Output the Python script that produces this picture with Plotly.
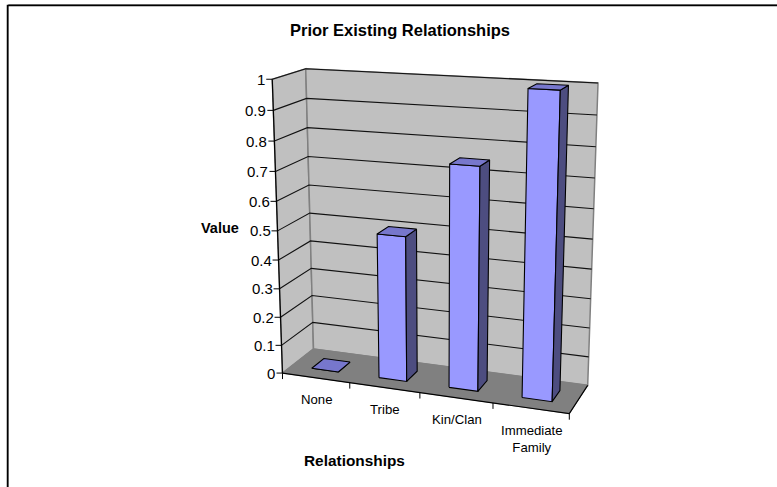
import numpy as np
import plotly.graph_objects as go

categories = ["None", "Tribe", "Kin/Clan", "Immediate<br>Family"]
values = [0, 0.5, 0.75, 1.0]
axis_ticks = [0, 0.1, 0.2, 0.3, 0.4, 0.5, 0.6, 0.7, 0.8, 0.9, 1]
tick_labels = ["0", "0.1", "0.2", "0.3", "0.4", "0.5", "0.6", "0.7", "0.8", "0.9", "1"]
title = "Prior Existing Relationships"
x_title = "Relationships"
y_title = "Value"

# Calibration of the 3-D box (category u, value v, depth w) onto the page
box_corners = [((0, 0, 0), (283, 373)), ((4, 0, 0), (569, 414)), ((4, 0, 1), (588, 385)),
               ((0, 0, 1), (313, 349)), ((0, 1, 0), (272, 79)), ((0, 1, 1), (306, 69)),
               ((4, 1, 1), (598, 83))]
A = []
b = []
for (u, v, w), (px, py) in box_corners:
    A.append([u, v, w, 1, 0, 0, 0, 0, -px * u, -px * v, -px * w])
    b.append(px)
    A.append([0, 0, 0, 0, u, v, w, 1, -py * u, -py * v, -py * w])
    b.append(py)
sol = np.linalg.lstsq(np.array(A, float), np.array(b, float), rcond=None)[0]
P = np.append(sol, 1.0).reshape(3, 4)


def proj(u, v, w):
    q = P @ np.array([u, v, w, 1.0])
    return q[0] / q[2], q[1] / q[2]


fig = go.Figure()


def poly(points, fill=None, line="black", width=1.0, close=True):
    pts = [proj(*p) for p in points]
    if close:
        pts.append(pts[0])
    fig.add_trace(go.Scatter(
        x=[p[0] for p in pts], y=[p[1] for p in pts], mode="lines",
        fill="toself" if fill else "none", fillcolor=fill,
        line=dict(color=line, width=width), hoverinfo="skip", showlegend=False))


N = len(categories)
WALL = "#C0C0C0"
FLOOR = "#808080"
EDGE = "#808080"

# walls and floor
poly([(0, 0, 0), (0, 0, 1), (0, 1, 1), (0, 1, 0)], WALL, EDGE, 1.5)
poly([(0, 0, 1), (N, 0, 1), (N, 1, 1), (0, 1, 1)], WALL, EDGE, 1.5)
poly([(0, 0, 0), (N, 0, 0), (N, 0, 1), (0, 0, 1)], FLOOR, EDGE, 1.0)

# gridlines
for t in axis_ticks[1:]:
    poly([(0, t, 0), (0, t, 1), (N, t, 1)], None, "#111111", 1.1, close=False)

# axes
poly([(0, 0, 0), (0, 1, 0)], None, "black", 1.2, close=False)
poly([(0, 0, 0), (N, 0, 0), (N, 0, 1)], None, "black", 1.2, close=False)
annotations = []
for t, lab in zip(axis_ticks, tick_labels):
    x0, y0 = proj(0, t, 0)
    fig.add_trace(go.Scatter(x=[x0 - 6, x0], y=[y0, y0], mode="lines", line=dict(color="black", width=1),
                             hoverinfo="skip", showlegend=False))
    annotations.append(dict(x=x0 - 5, y=y0, text=lab, xanchor="right", yanchor="middle", showarrow=False,
                            font=dict(family="Liberation Sans", size=15, color="black")))
for i in range(N + 1):
    x0, y0 = proj(i, 0, 0)
    fig.add_trace(go.Scatter(x=[x0, x0], y=[y0, y0 + 6], mode="lines", line=dict(color="black", width=1),
                             hoverinfo="skip", showlegend=False))

# bars
LO, HI = 0.3, 0.7
for i, val in enumerate(values):
    a, c = i + LO, i + HI
    poly([(a, 0, LO), (c, 0, LO), (c, val, LO), (a, val, LO)], "#9999FF", "black", 1.1)
    poly([(c, 0, LO), (c, 0, HI), (c, val, HI), (c, val, LO)], "#4D4D80", "black", 1.1)
    poly([(a, val, LO), (c, val, LO), (c, val, HI), (a, val, HI)], "#7777CC", "black", 1.1)

# category labels
for i, cat in enumerate(categories):
    x0, y0 = proj(i + 0.5, 0, 0)
    annotations.append(dict(x=x0 + 1, y=y0 + 12.5, text=cat, xanchor="center", yanchor="top", showarrow=False,
                            font=dict(family="Liberation Sans", size=13.2, color="black"), align="center"))

annotations.append(dict(x=399.5, y=30, text="<b>%s</b>" % title, showarrow=False, xanchor="center", yanchor="middle",
                        font=dict(family="Liberation Sans", size=16.5, color="black")))
annotations.append(dict(x=354, y=460, text="<b>%s</b>" % x_title, showarrow=False, xanchor="center", yanchor="middle",
                        font=dict(family="Liberation Sans", size=15.4, color="black")))
annotations.append(dict(x=220, y=228, text="<b>%s</b>" % y_title, showarrow=False, xanchor="center", yanchor="middle",
                        font=dict(family="Liberation Sans", size=14.5, color="black")))

# outer frame, open at the right and the bottom
fig.add_trace(go.Scatter(x=[8.5, 8.5, 777], y=[487, 4.5, 4.5], mode="lines", line=dict(color="#808080", width=1),
                         hoverinfo="skip", showlegend=False))
fig.add_trace(go.Scatter(x=[7.5, 7.5, 777], y=[487, 5.5, 5.5], mode="lines", line=dict(color="black", width=1.5),
                         hoverinfo="skip", showlegend=False))

fig.update_layout(
    width=777, height=487, autosize=False, margin=dict(l=0, r=0, t=0, b=0),
    paper_bgcolor="white", plot_bgcolor="white", annotations=annotations,
    xaxis=dict(range=[0, 777], visible=False, fixedrange=True),
    yaxis=dict(range=[487, 0], visible=False, fixedrange=True),
)
fig.write_html("out.html", config=dict(displayModeBar=False),
               post_script="document.body.style.margin='0';document.documentElement.style.overflow='hidden';")
